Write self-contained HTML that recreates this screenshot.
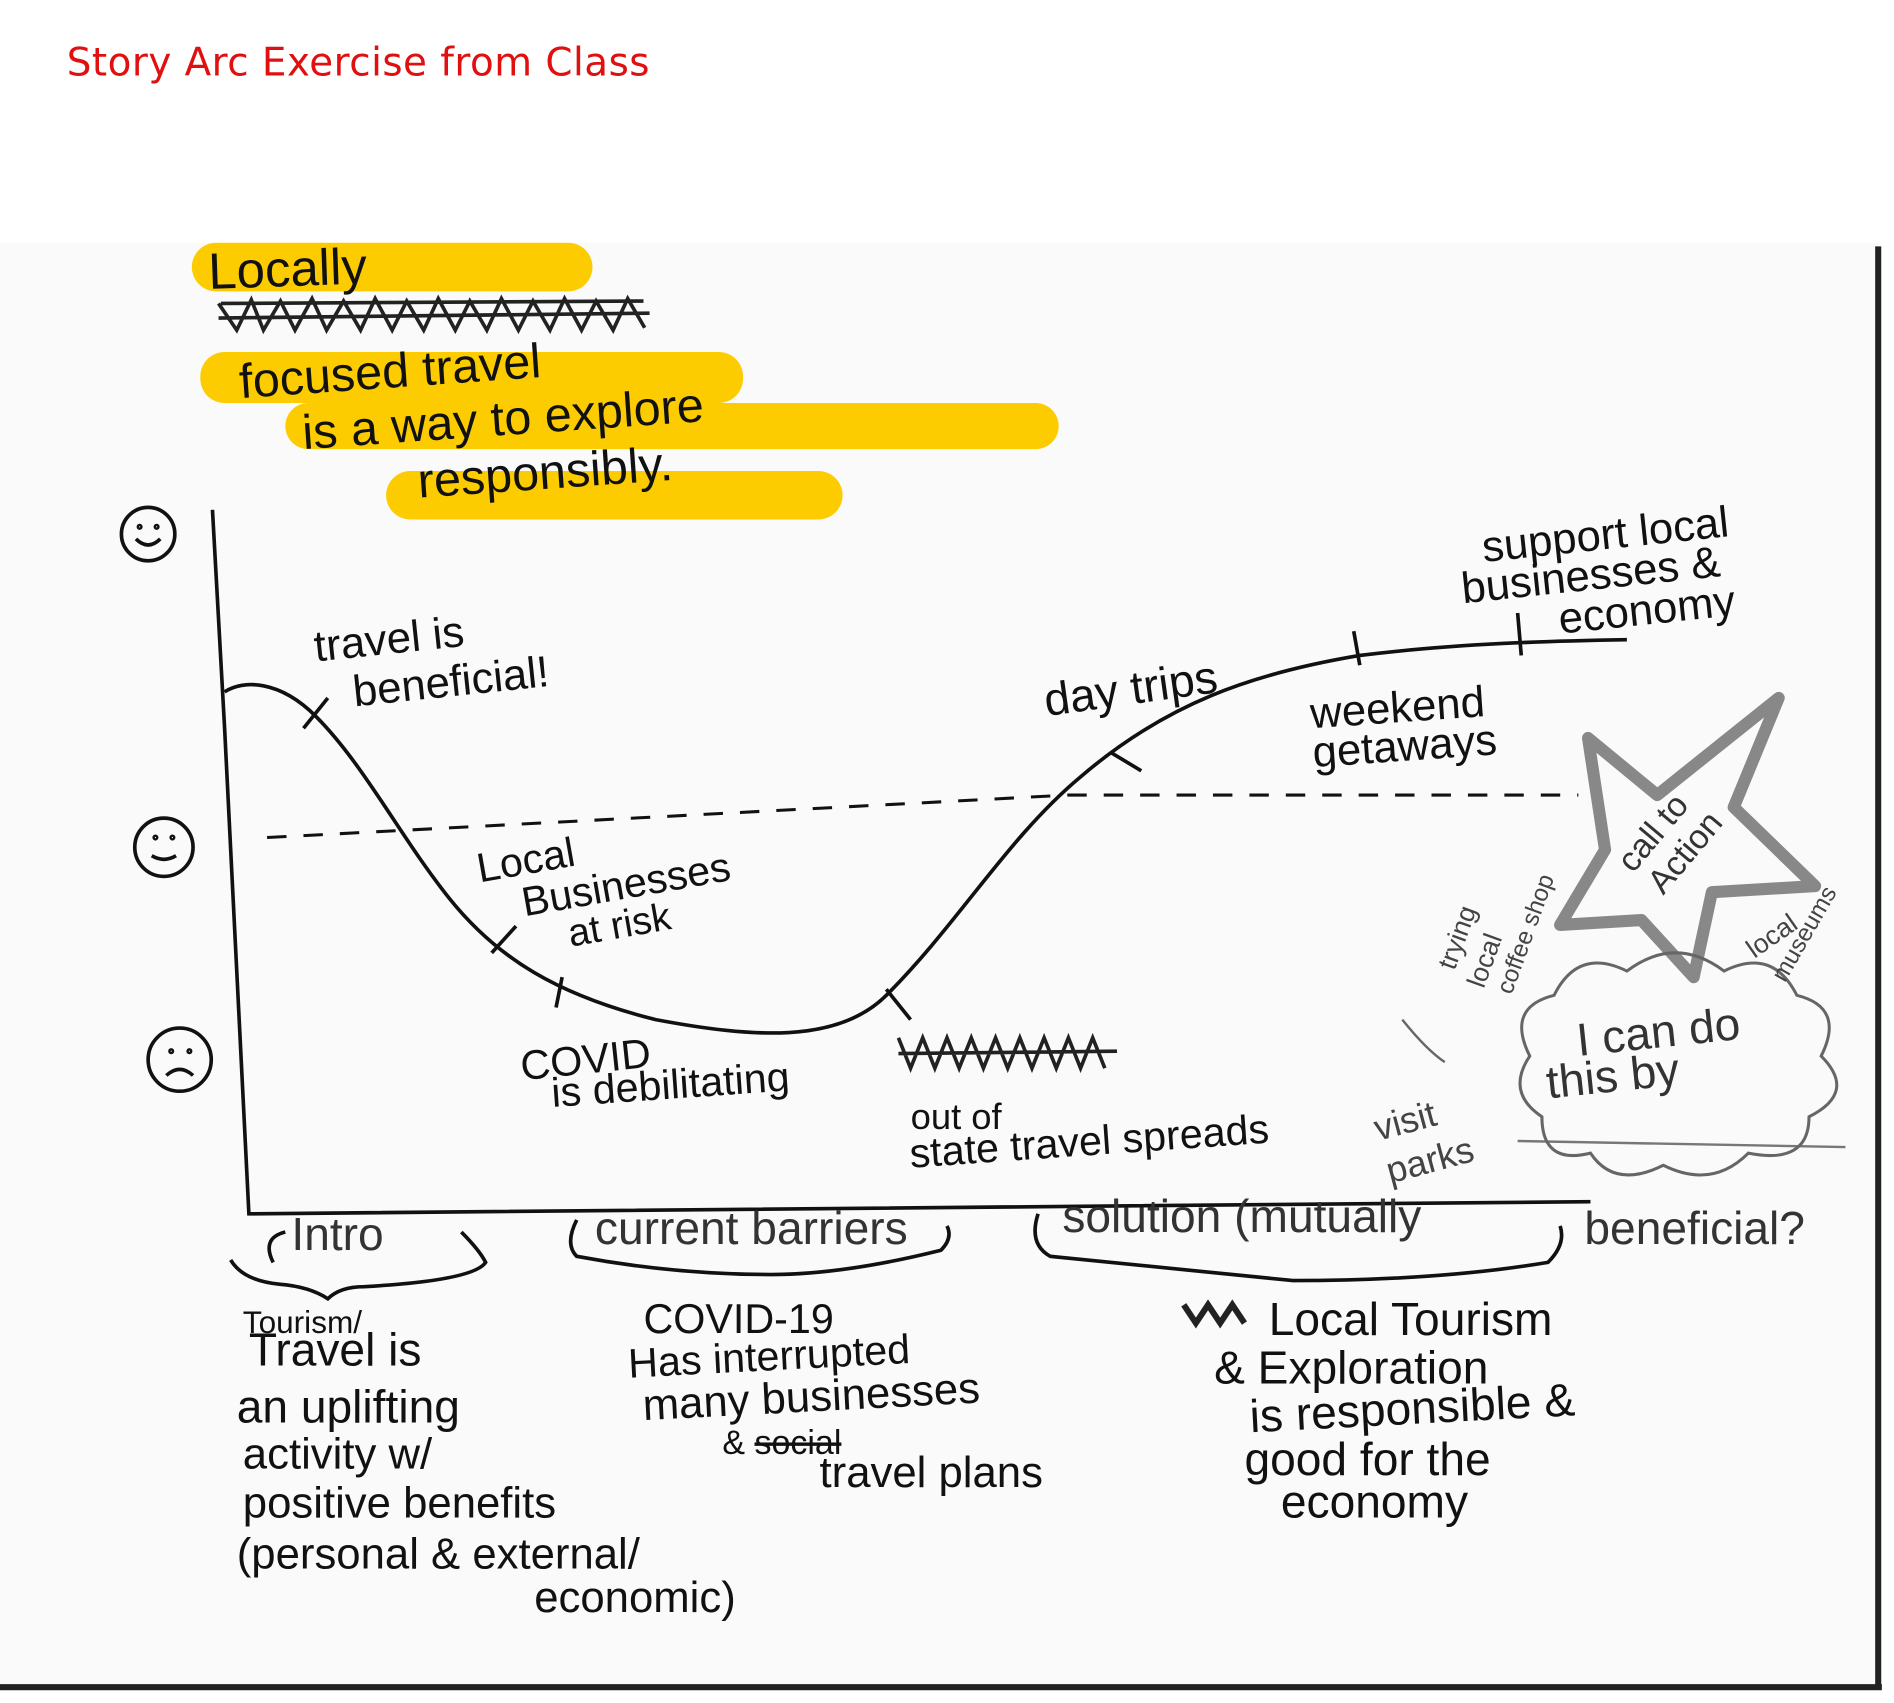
<!DOCTYPE html>
<html><head><meta charset="utf-8"><style>
html,body{margin:0;padding:0;background:#fff;width:1894px;height:1703px;overflow:hidden}
svg{display:block}
text{font-family:"Liberation Sans",sans-serif;fill:#111}
</style></head><body>
<svg width="1894" height="1703" viewBox="0 0 1560 1403" preserveAspectRatio="none" xmlns="http://www.w3.org/2000/svg">
<rect x="0" y="200" width="1548" height="1190" fill="#fafafa"/>
<text x="55" y="62" font-size="32" textLength="480" style="fill:#e01010;font-family:'DejaVu Sans',sans-serif">Story Arc Exercise from Class</text>
<line x1="1547" y1="203" x2="1547" y2="1390" stroke="#222" stroke-width="5"/>
<line x1="0" y1="1390" x2="1550" y2="1390" stroke="#222" stroke-width="5"/>
<g fill="#fdcc00">
<rect x="158" y="200" width="330" height="40" rx="20"/>
<rect x="165" y="290" width="447" height="42" rx="20"/>
<rect x="235" y="332" width="637" height="38" rx="19"/>
<rect x="318" y="388" width="376" height="40" rx="20"/>
</g>
<text x="172" y="238" font-size="42" transform="rotate(-2 172 238)">Locally</text>
<g stroke="#222" stroke-width="3" fill="none">
<path d="M180 250 l15 22 l12 -25 l10 25 l14 -24 l12 24 l14 -26 l12 26 l14 -24 l14 24 l12 -26 l14 26 l12 -24 l14 24 l12 -26 l14 26 l12 -24 l14 24 l12 -26 l14 26 l12 -24 l14 24 l12 -26 l14 26 l12 -24 l14 24 l12 -26 l14 24"/>
<path d="M180 262 L535 258 M182 250 L530 248"/>
</g>
<text x="198" y="328" font-size="40" transform="rotate(-4 198 328)">focused travel</text>
<text x="250" y="370" font-size="40" transform="rotate(-4 250 370)">is a way to explore</text>
<text x="345" y="410" font-size="40" transform="rotate(-4 345 410)">responsibly.</text>
<g fill="none" stroke="#111" stroke-width="3">
<circle cx="122" cy="440" r="22"/><path d="M112 444 q10 10 20 0"/><circle cx="115" cy="434" r="1"/><circle cx="129" cy="434" r="1"/>
<circle cx="135" cy="698" r="24"/><path d="M125 705 q10 6 20 0"/><circle cx="128" cy="690" r="1"/><circle cx="142" cy="690" r="1"/>
<circle cx="148" cy="873" r="26"/><path d="M137 886 q11 -10 22 0"/><circle cx="141" cy="866" r="1"/><circle cx="156" cy="866" r="1"/>
<path d="M175 420 L185 600 L205 1000 L1310 990" stroke-width="3"/>
<path d="M220 690 L880 655 L1300 655" stroke-dasharray="16 14" stroke-width="2.5"/>
<path d="M185 570 C200 560 230 560 260 590 C300 630 330 690 370 740 C410 790 460 820 540 840 C620 855 690 860 730 820 C790 760 830 690 890 640 C960 580 1030 555 1120 540 C1200 530 1280 528 1340 527" stroke-width="3"/>
<path d="M250 600 l20 -25 M405 785 l20 -22 M458 830 l5 -25 M730 815 l20 25 M915 620 l25 15 M1115 520 l5 28 M1250 505 l3 35"/>
<path d="M1250 940 L1520 945" stroke="#777" stroke-width="2"/>
<path d="M225 1040 q-10 -20 10 -25 M380 1015 q15 15 20 25 q-10 15 -100 20 q-20 0 -30 10 q-15 -10 -40 -12 q-30 -3 -40 -20"/>
<path d="M475 1005 q-10 20 0 30 q80 15 160 15 q60 0 140 -20 q10 -10 5 -20"/>
<path d="M855 1000 q-8 25 10 35 q100 10 200 20 q120 0 210 -15 q15 -15 10 -30"/>
</g>
<polygon points="1465,575 1428,665 1495,730 1410,735 1395,805 1352,758 1285,762 1322,700 1308,608 1365,655" fill="none" stroke="#888" stroke-width="10" stroke-linejoin="round"/>
<path d="M1260 870 q-20 -40 20 -50 q20 -40 60 -20 q40 -30 80 0 q40 -20 60 20 q40 10 20 50 q30 30 -10 50 q0 40 -50 30 q-30 30 -70 10 q-40 20 -60 -10 q-40 10 -40 -30 q-30 -20 -10 -50z" fill="none" stroke="#666" stroke-width="2.5"/>
<path d="M1155 840 q20 25 35 35" fill="none" stroke="#666" stroke-width="2"/>
<text x="260" y="545" font-size="36" transform="rotate(-6 260 545)">travel is</text>
<text x="292" y="582" font-size="36" transform="rotate(-6 292 582)">beneficial!</text>
<text x="395" y="727" font-size="34" transform="rotate(-10 395 727)">Local</text>
<text x="432" y="755" font-size="34" transform="rotate(-10 432 755)">Businesses</text>
<text x="470" y="780" font-size="32" transform="rotate(-10 470 780)">at risk</text>
<text x="430" y="890" font-size="34" transform="rotate(-6 430 890)">COVID</text>
<text x="455" y="912" font-size="34" transform="rotate(-4 455 912)">is debilitating</text>
<g stroke="#222" stroke-width="3" fill="none">
<path d="M740 855 l10 25 l10 -25 l10 25 l10 -25 l10 25 l10 -25 l10 25 l10 -25 l10 25 l10 -25 l10 25 l10 -25 l10 25 l10 -25 l10 25 l10 -25 l10 25 M740 868 L920 866"/>
</g>
<text x="750" y="930" font-size="30">out of</text>
<text x="750" y="962" font-size="34" transform="rotate(-4 750 962)">state travel spreads</text>
<text x="862" y="590" font-size="38" transform="rotate(-8 862 590)">day trips</text>
<text x="1080" y="600" font-size="36" transform="rotate(-4 1080 600)">weekend</text>
<text x="1082" y="632" font-size="36" transform="rotate(-4 1082 632)">getaways</text>
<text x="1222" y="463" font-size="36" transform="rotate(-6 1222 463)">support local</text>
<text x="1205" y="497" font-size="36" transform="rotate(-6 1205 497)">businesses &amp;</text>
<text x="1285" y="522" font-size="36" transform="rotate(-6 1285 522)">economy</text>
<text x="1345" y="720" font-size="28" transform="rotate(-50 1345 720)" style="fill:#333">call to</text>
<text x="1370" y="738" font-size="28" transform="rotate(-50 1370 738)" style="fill:#333">Action</text>
<text x="1198" y="800" font-size="22" transform="rotate(-70 1198 800)" style="fill:#444">trying</text>
<text x="1222" y="815" font-size="22" transform="rotate(-70 1222 815)" style="fill:#444">local</text>
<text x="1245" y="820" font-size="20" transform="rotate(-70 1245 820)" style="fill:#444">coffee shop</text>
<text x="1445" y="790" font-size="22" transform="rotate(-35 1445 790)" style="fill:#444">local</text>
<text x="1470" y="810" font-size="20" transform="rotate(-60 1470 810)" style="fill:#444">museums</text>
<text x="1300" y="870" font-size="38" transform="rotate(-6 1300 870)" style="fill:#333">I can do</text>
<text x="1275" y="905" font-size="38" transform="rotate(-6 1275 905)" style="fill:#333">this by</text>
<text x="1135" y="940" font-size="30" transform="rotate(-15 1135 940)" style="fill:#444">visit</text>
<text x="1145" y="975" font-size="30" transform="rotate(-15 1145 975)" style="fill:#444">parks</text>
<text x="240" y="1030" font-size="38" style="fill:#333">Intro</text>
<text x="490" y="1025" font-size="38" style="fill:#333">current barriers</text>
<text x="875" y="1015" font-size="38" style="fill:#333">solution (mutually</text>
<text x="1305" y="1025" font-size="38" style="fill:#333">beneficial?</text>
<text x="200" y="1098" font-size="26">Tourism/</text>
<text x="205" y="1125" font-size="38">Travel is</text>
<text x="195" y="1172" font-size="38">an uplifting</text>
<text x="200" y="1210" font-size="36">activity w/</text>
<text x="200" y="1250" font-size="36">positive  benefits</text>
<text x="195" y="1292" font-size="36">(personal &amp; external/</text>
<text x="440" y="1328" font-size="36">economic)</text>
<text x="530" y="1098" font-size="34">COVID-19</text>
<text x="518" y="1135" font-size="34" transform="rotate(-3 518 1135)">Has interrupted</text>
<text x="530" y="1170" font-size="36" transform="rotate(-3 530 1170)">many businesses</text>
<text x="595" y="1198" font-size="28">&amp; <tspan style="text-decoration:line-through">social</tspan></text>
<text x="675" y="1225" font-size="36">travel plans</text>
<path d="M975 1075 l10 15 l10 -15 l10 15 l10 -15 l10 15" stroke="#222" stroke-width="5" fill="none"/>
<text x="1045" y="1100" font-size="38">Local Tourism</text>
<text x="1000" y="1140" font-size="38">&amp; Exploration</text>
<text x="1030" y="1180" font-size="38" transform="rotate(-3 1030 1180)">is responsible &amp;</text>
<text x="1025" y="1215" font-size="38">good for the</text>
<text x="1055" y="1250" font-size="38">economy</text>
</svg>
</body></html>
